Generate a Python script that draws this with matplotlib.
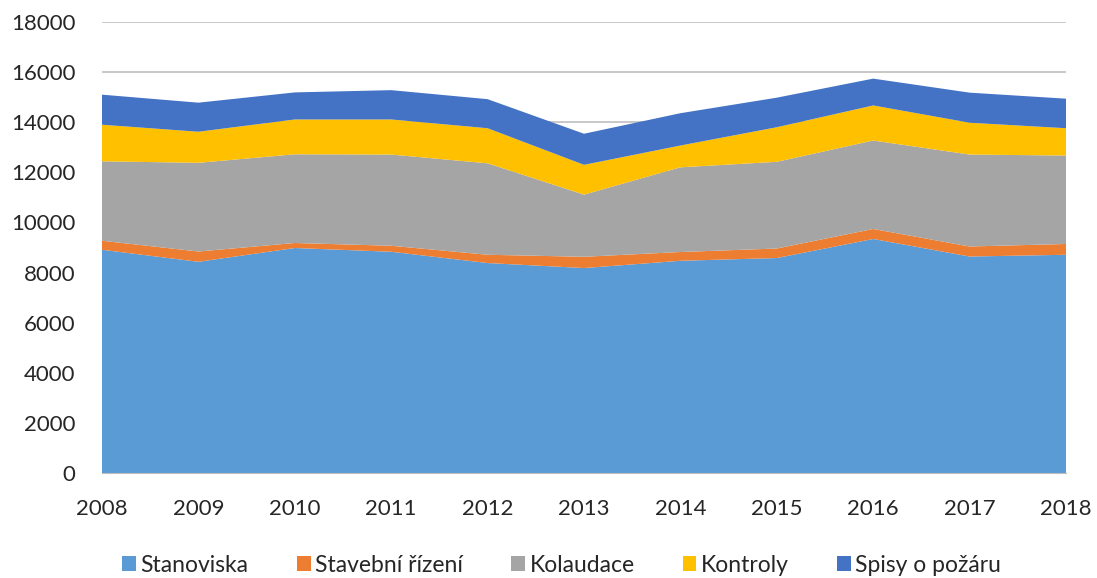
import numpy as np
import matplotlib.pyplot as plt

# Data
years = [2008, 2009, 2010, 2011, 2012, 2013, 2014, 2015, 2016, 2017, 2018]
stanoviska = [8910, 8430, 8980, 8830, 8380, 8180, 8470, 8580, 9340, 8640, 8710]
stavebni_rizeni = [360, 410, 200, 240, 330, 450, 350, 380, 400, 400, 430]
kolaudace = [3170, 3540, 3540, 3640, 3650, 2480, 3380, 3460, 3530, 3670, 3530]
kontroly = [1460, 1240, 1390, 1400, 1400, 1190, 870, 1380, 1400, 1270, 1090]
spisy_o_pozaru = [1200, 1160, 1080, 1170, 1160, 1240, 1290, 1180, 1070, 1200, 1180]

labels = ['Stanoviska', 'Stavební řízení', 'Kolaudace', 'Kontroly', 'Spisy o požáru']
colors = ['#5B9BD5', '#ED7D31', '#A5A5A5', '#FFC000', '#4472C4']

plt.rcParams['font.family'] = ['Lato', 'DejaVu Sans']

fig = plt.figure(figsize=(10.97, 5.78), dpi=100)
ax = fig.add_axes([102/1097, 1 - 473/578, (1066 - 102)/1097, (473 - 22)/578])

ax.stackplot(years, stanoviska, stavebni_rizeni, kolaudace, kontroly,
             spisy_o_pozaru, colors=colors, labels=labels, zorder=2)

ax.set_xlim(2008, 2018)
ax.set_ylim(0, 18000)
ax.set_xticks(years)
ax.set_yticks(np.arange(0, 18001, 2000))
ax.grid(axis='y', color='#BFBFBF', linewidth=1.2, zorder=0)
ax.set_axisbelow(True)

for side in ['top', 'right', 'left']:
    ax.spines[side].set_visible(False)
ax.spines['bottom'].set_color('#BFBFBF')

ax.tick_params(axis='both', length=0, labelsize=16, colors='#262626')
ax.tick_params(axis='x', pad=19)
ax.tick_params(axis='y', pad=19)

ax.legend(loc='center', bbox_to_anchor=(0.477, -0.204), ncol=5, frameon=False,
          fontsize=16.5, handlelength=0.6, handleheight=0.6, handletextpad=0.2,
          columnspacing=2.1, labelcolor='#262626')

plt.savefig('out.png', dpi=100)
